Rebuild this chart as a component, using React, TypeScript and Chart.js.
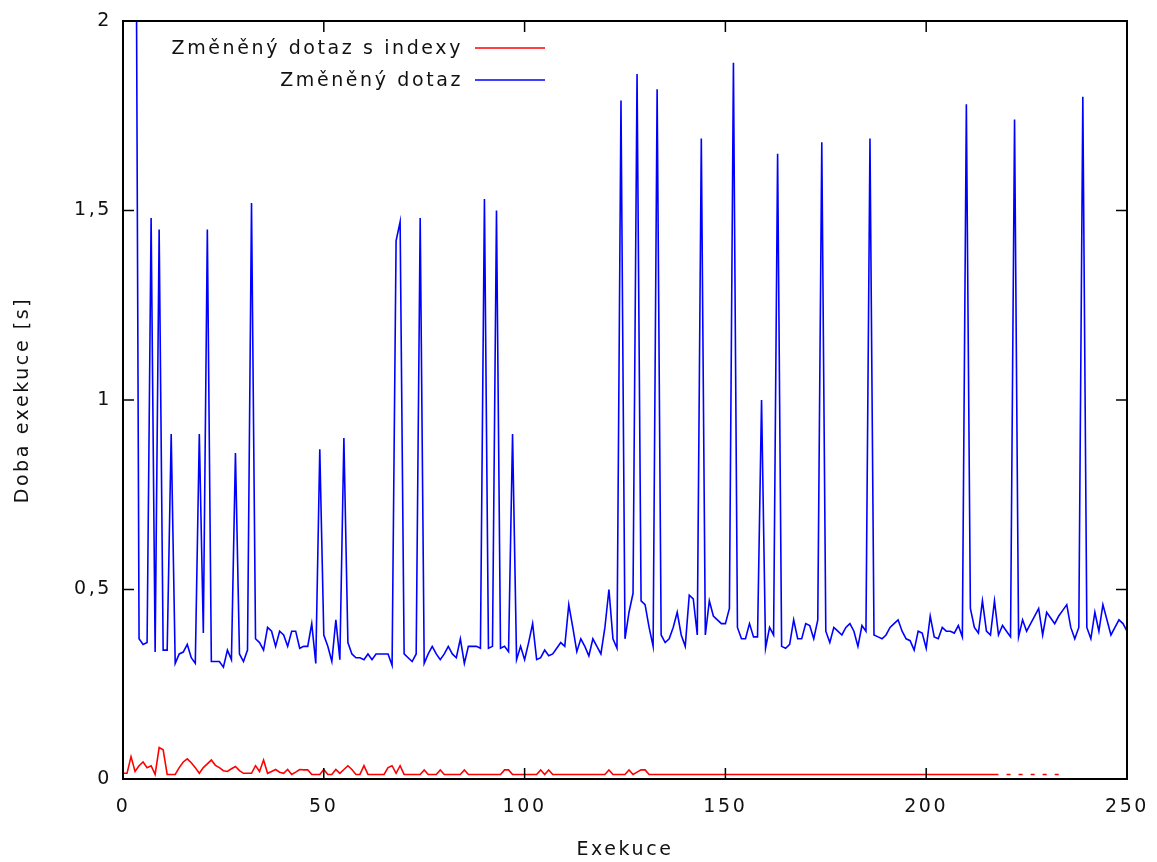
import React, { useEffect, useRef } from "react";
import { Chart, registerables } from "chart.js";

Chart.register(...registerables);

const seriesLabels = ["Změněný dotaz s indexy", "Změněný dotaz"];
const seriesColors = ["rgb(255,0,0)", "rgb(0,0,255)"];
const xTitle = "Exekuce";
const yTitle = "Doba exekuce [s]";

// Změněný dotaz s indexy (seconds), index = execution number; null = missing
const indexedTimes: (number | null)[] = [
  0.015, 0.015, 0.059, 0.02, 0.035, 0.045, 0.03, 0.035, 0.012, 0.083,
  0.077, 0.012, 0.012, 0.012, 0.03, 0.045, 0.053, 0.043, 0.03, 0.015,
  0.03, 0.04, 0.05, 0.036, 0.03, 0.022, 0.02, 0.027, 0.033, 0.022,
  0.015, 0.015, 0.015, 0.035, 0.02, 0.05, 0.015, 0.02, 0.025, 0.018,
  0.015, 0.025, 0.012, 0.018, 0.025, 0.024, 0.024, 0.012, 0.012, 0.012,
  0.025, 0.012, 0.012, 0.025, 0.015, 0.025, 0.035, 0.025, 0.012, 0.012,
  0.035, 0.012, 0.012, 0.012, 0.012, 0.012, 0.03, 0.035, 0.015, 0.035,
  0.012, 0.012, 0.012, 0.012, 0.012, 0.024, 0.012, 0.012, 0.012, 0.024,
  0.012, 0.012, 0.012, 0.012, 0.012, 0.024, 0.012, 0.012, 0.012, 0.012,
  0.012, 0.012, 0.012, 0.012, 0.012, 0.024, 0.024, 0.012, 0.012, 0.012,
  0.012, 0.012, 0.012, 0.012, 0.024, 0.012, 0.024, 0.012, 0.012, 0.012,
  0.012, 0.012, 0.012, 0.012, 0.012, 0.012, 0.012, 0.012, 0.012, 0.012,
  0.012, 0.024, 0.012, 0.012, 0.012, 0.012, 0.024, 0.012, 0.018, 0.024,
  0.024, 0.012, 0.012, 0.012, 0.012, 0.012, 0.012, 0.012, 0.012, 0.012,
  0.012, 0.012, 0.012, 0.012, 0.012, 0.012, 0.012, 0.012, 0.012, 0.012,
  0.012, 0.012, 0.012, 0.012, 0.012, 0.012, 0.012, 0.012, 0.012, 0.012,
  0.012, 0.012, 0.012, 0.012, 0.012, 0.012, 0.012, 0.012, 0.012, 0.012,
  0.012, 0.012, 0.012, 0.012, 0.012, 0.012, 0.012, 0.012, 0.012, 0.012,
  0.012, 0.012, 0.012, 0.012, 0.012, 0.012, 0.012, 0.012, 0.012, 0.012,
  0.012, 0.012, 0.012, 0.012, 0.012, 0.012, 0.012, 0.012, 0.012, 0.012,
  0.012, 0.012, 0.012, 0.012, 0.012, 0.012, 0.012, 0.012, 0.012, 0.012,
  0.012, 0.012, 0.012, 0.012, 0.012, 0.012, 0.012, 0.012, 0.012, null,
  0.012, 0.012, null, 0.012, 0.012, null, 0.012, 0.012, null, 0.012,
  0.012, null, 0.012, 0.012,
];

// Změněný dotaz (seconds), index = execution number
const plainTimes: number[] = [
  3.6, 3.4, 3.2, 3.0, 0.37, 0.355, 0.36, 1.48, 0.335, 1.45,
  0.34, 0.34, 0.91, 0.305, 0.33, 0.335, 0.355, 0.32, 0.305, 0.91,
  0.385, 1.45, 0.31, 0.31, 0.31, 0.295, 0.34, 0.315, 0.86, 0.33,
  0.31, 0.34, 1.52, 0.37, 0.36, 0.34, 0.4, 0.39, 0.35, 0.39,
  0.38, 0.35, 0.39, 0.39, 0.345, 0.35, 0.35, 0.41, 0.305, 0.87,
  0.38, 0.35, 0.31, 0.42, 0.315, 0.9, 0.36, 0.33, 0.32, 0.32,
  0.315, 0.33, 0.315, 0.33, 0.33, 0.33, 0.33, 0.3, 1.42, 1.47,
  0.33, 0.32, 0.31, 0.33, 1.48, 0.305, 0.33, 0.35, 0.33, 0.315,
  0.33, 0.35, 0.33, 0.32, 0.37, 0.305, 0.35, 0.35, 0.35, 0.345,
  1.53, 0.345, 0.35, 1.5, 0.345, 0.35, 0.336, 0.91, 0.315, 0.35,
  0.315, 0.36, 0.41, 0.315, 0.32, 0.34, 0.325, 0.33, 0.345, 0.36,
  0.35, 0.46, 0.4, 0.336, 0.37, 0.35, 0.325, 0.37, 0.35, 0.33,
  0.4, 0.5, 0.37, 0.345, 1.79, 0.37, 0.44, 0.49, 1.86, 0.47,
  0.46, 0.4, 0.35, 1.82, 0.38, 0.36, 0.37, 0.4, 0.44, 0.38,
  0.35, 0.485, 0.475, 0.38, 1.69, 0.38, 0.47, 0.43, 0.42, 0.41,
  0.41, 0.45, 1.89, 0.4, 0.37, 0.37, 0.41, 0.375, 0.375, 1.0,
  0.345, 0.4, 0.38, 1.65, 0.35, 0.345, 0.355, 0.42, 0.37, 0.37,
  0.41, 0.405, 0.37, 0.42, 1.68, 0.39, 0.36, 0.4, 0.39, 0.38,
  0.4, 0.41, 0.39, 0.35, 0.405, 0.39, 1.69, 0.38, 0.375, 0.37,
  0.38, 0.4, 0.41, 0.42, 0.39, 0.37, 0.365, 0.34, 0.39, 0.385,
  0.345, 0.43, 0.375, 0.37, 0.4, 0.39, 0.39, 0.385, 0.405, 0.375,
  1.78, 0.45, 0.4, 0.385, 0.47, 0.39, 0.38, 0.47, 0.38, 0.405,
  0.39, 0.375, 1.74, 0.375, 0.42, 0.39, 0.41, 0.43, 0.45, 0.38,
  0.44, 0.425, 0.41, 0.43, 0.445, 0.46, 0.4, 0.37, 0.4, 1.8,
  0.4, 0.37, 0.44, 0.39, 0.46, 0.42, 0.38, 0.4, 0.42, 0.41,
  0.39,
];

const FONT = { family: "'DejaVu Sans', Verdana, sans-serif", size: 19 };
const TEXT_COLOR = "#111";
const SPACING = "2.6px";

const spacingPlugin = {
  id: "letterSpacing",
  beforeUpdate(chart: any) {
    chart.ctx.letterSpacing = SPACING;
  },
  beforeDraw(chart: any) {
    chart.ctx.letterSpacing = SPACING;
  },
};

const framePlugin = {
  id: "frameTicks",
  afterDatasetsDraw(chart: any) {
    const { ctx, chartArea, scales } = chart;
    const { left, right, top, bottom } = chartArea;
    const len = 11;
    ctx.save();
    ctx.strokeStyle = "#000";
    ctx.lineWidth = 1.5;
    ctx.beginPath();
    scales.x.ticks.forEach((t: any) => {
      const px = scales.x.getPixelForValue(t.value);
      ctx.moveTo(px, bottom);
      ctx.lineTo(px, bottom - len);
      ctx.moveTo(px, top);
      ctx.lineTo(px, top + len);
    });
    scales.y.ticks.forEach((t: any) => {
      const py = scales.y.getPixelForValue(t.value);
      ctx.moveTo(left, py);
      ctx.lineTo(left + len, py);
      ctx.moveTo(right, py);
      ctx.lineTo(right - len, py);
    });
    ctx.stroke();
    ctx.lineWidth = 2;
    ctx.strokeRect(left, top, right - left, bottom - top);
    ctx.restore();
  },
};

const legendPlugin = {
  id: "gnuLegend",
  afterDraw(chart: any) {
    const { ctx } = chart;
    ctx.save();
    ctx.letterSpacing = SPACING;
    ctx.font = `${FONT.size}px ${FONT.family}`;
    ctx.textAlign = "right";
    ctx.textBaseline = "middle";
    chart.data.datasets.forEach((ds: any, i: number) => {
      const y = 48 + i * 32;
      ctx.fillStyle = TEXT_COLOR;
      ctx.fillText(ds.label, 463, y + 1);
      ctx.strokeStyle = ds.borderColor;
      ctx.lineWidth = 1.6;
      ctx.beginPath();
      ctx.moveTo(475, y);
      ctx.lineTo(545, y);
      ctx.stroke();
    });
    ctx.restore();
  },
};

export default function App() {
  const ref = useRef<HTMLCanvasElement | null>(null);

  useEffect(() => {
    if (!ref.current) return;
    const chart = new Chart(ref.current, {
      type: "line",
      data: {
        datasets: [
          {
            label: seriesLabels[0],
            data: indexedTimes.map((v, i) => ({ x: i, y: v })) as any,
            borderColor: seriesColors[0],
            borderWidth: 1.6,
            pointRadius: 0,
            tension: 0,
            spanGaps: false,
          },
          {
            label: seriesLabels[1],
            data: plainTimes.map((v, i) => ({ x: i, y: v })) as any,
            borderColor: seriesColors[1],
            borderWidth: 1.6,
            pointRadius: 0,
            tension: 0,
          },
        ],
      },
      options: {
        animation: false,
        responsive: false,
        events: [],
        layout: { padding: { top: 21, right: 30, left: 0, bottom: 0 } },
        plugins: {
          legend: { display: false },
          tooltip: { enabled: false },
        },
        scales: {
          x: {
            type: "linear",
            min: 0,
            max: 250,
            grid: { display: false, drawTicks: false },
            border: { display: false },
            ticks: {
              stepSize: 50,
              padding: 17,
              color: TEXT_COLOR,
              font: FONT,
              maxRotation: 0,
            },
            title: {
              display: true,
              text: xTitle,
              color: TEXT_COLOR,
              font: FONT,
              padding: { top: 0, bottom: 1 },
            },
            afterFit(scale: any) {
              scale.height = 83;
              scale.paddingLeft = 0;
              scale.paddingRight = 0;
            },
          },
          y: {
            type: "linear",
            min: 0,
            max: 2,
            grid: { display: false, drawTicks: false },
            border: { display: false },
            ticks: {
              stepSize: 0.5,
              padding: 11,
              color: TEXT_COLOR,
              font: FONT,
              callback: (v: any) => String(v).replace(".", ","),
            },
            title: {
              display: true,
              text: yTitle,
              color: TEXT_COLOR,
              font: FONT,
              padding: { top: 12, bottom: 0 },
            },
            afterFit(scale: any) {
              scale.width = 123;
              scale.paddingTop = 0;
              scale.paddingBottom = 0;
            },
          },
        },
      },
      plugins: [spacingPlugin, framePlugin, legendPlugin],
    });
    return () => chart.destroy();
  }, []);

  return (
    <div style={{ position: "fixed", left: 0, top: 0, width: 1157, height: 862, background: "#fff" }}>
      <canvas ref={ref} width={1157} height={862} style={{ display: "block" }} />
    </div>
  );
}
